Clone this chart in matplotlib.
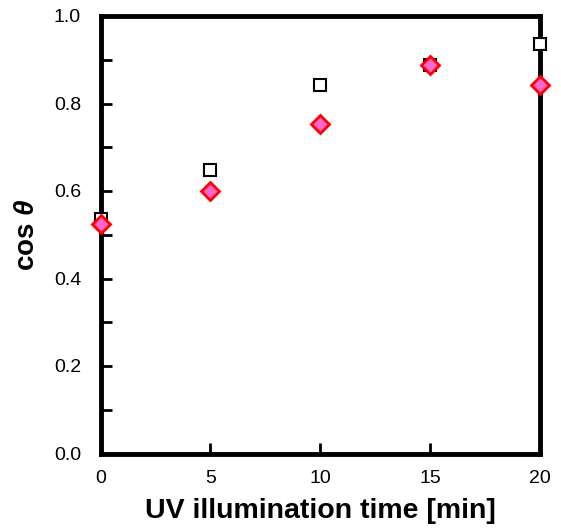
import numpy as np
import matplotlib.pyplot as plt

plt.rcParams['font.family'] = ['Liberation Sans', 'DejaVu Sans']
plt.rcParams['mathtext.fontset'] = 'custom'
plt.rcParams['mathtext.it'] = 'Liberation Sans:italic:bold'
plt.rcParams['mathtext.rm'] = 'Liberation Sans:bold'

# UV illumination time [min]
time_min = [0, 5, 10, 15, 20]
cos_square = [0.535, 0.647, 0.843, 0.888, 0.936]
cos_diamond = [0.524, 0.601, 0.754, 0.888, 0.843]

fig = plt.figure(figsize=(5.61, 5.31), dpi=100)
ax = fig.add_axes([100.5 / 561, (531 - 453.5) / 531, 439.5 / 561, 437.5 / 531])

ax.plot(time_min, cos_square, ls='none', marker='s', ms=9, mfc='white',
        mec='black', mew=1.5, clip_on=False, zorder=5)
ax.plot(time_min, cos_diamond, ls='none', marker='D', ms=9, mfc='#ff66cc',
        mec='#ff0000', mew=2, clip_on=False, zorder=6)

ax.set_xlim(0, 20)
ax.set_ylim(0, 1.0)
ax.set_xticks([0, 5, 10, 15, 20])
yt = np.arange(0, 1.01, 0.1)
ax.set_yticks(yt)
ax.set_yticklabels(['%.1f' % v if i % 2 == 0 else '' for i, v in enumerate(yt)])

for s in ax.spines.values():
    s.set_linewidth(3.5)
ax.tick_params(direction='in', length=8, width=2, labelsize=14,
               top=False, right=False)
ax.tick_params(axis='y', pad=14)
ax.tick_params(axis='x', pad=12)

ax.set_xlabel('UV illumination time [min]', fontsize=20.5, fontweight='bold',
              labelpad=8)
ax.set_ylabel(r'cos $\theta$', fontsize=20, fontweight='bold', labelpad=10)

fig.savefig('out.png', dpi=100)
